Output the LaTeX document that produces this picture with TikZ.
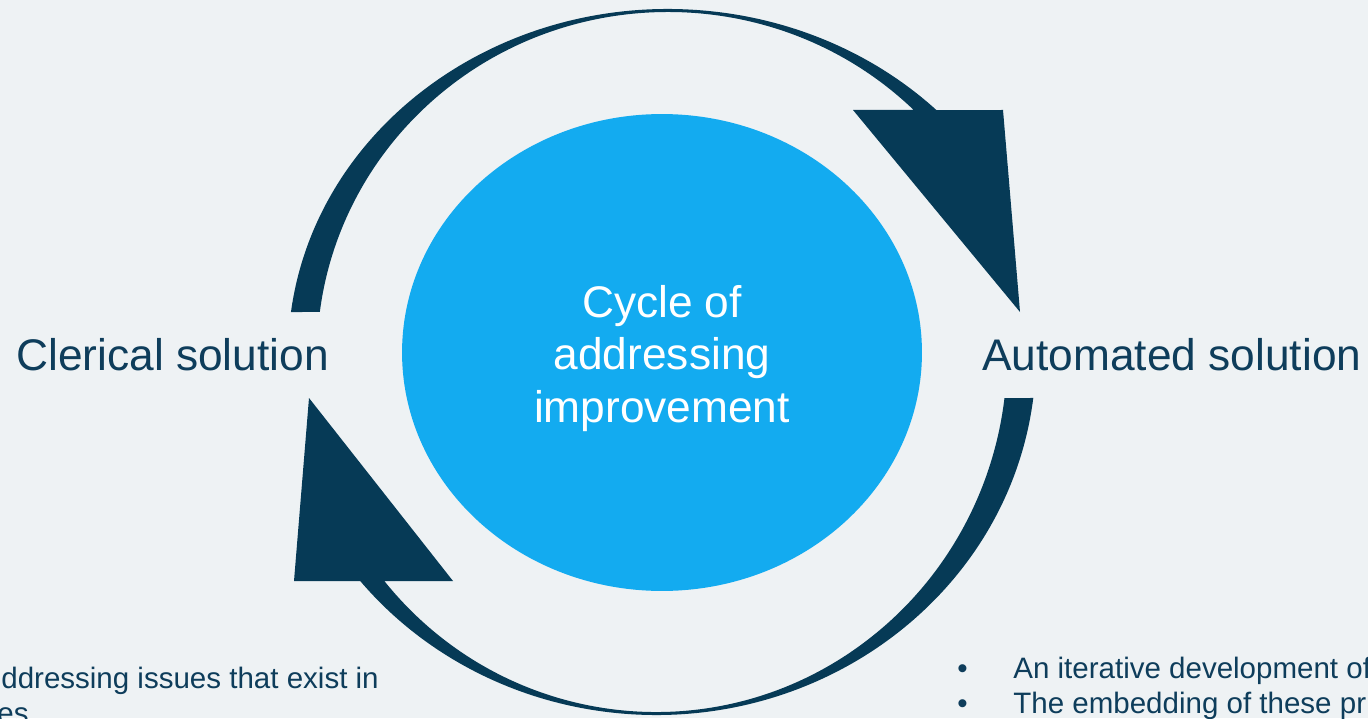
\documentclass[tikz,border=0pt]{standalone}
\usepackage{fontspec}
\setmainfont{Liberation Sans}
\usetikzlibrary{shapes.geometric,positioning}
\definecolor{bgcol}{HTML}{EEF2F4}
\definecolor{ringcol}{HTML}{063A56}
\definecolor{corecol}{HTML}{13ABF0}
\definecolor{labelcol}{HTML}{0E3D5B}
\tikzstyle{core} = [ellipse, fill=corecol, minimum width=10.4cm,
    minimum height=9.54cm, inner sep=0pt]
\tikzstyle{ring} = [fill=ringcol]
\tikzstyle{bigtext} = [text=white, font=\fontsize{25.2}{30}\selectfont,
    align=center, inner sep=0pt]
\tikzstyle{sidelabel} = [text=labelcol, font=\fontsize{25.2}{30}\selectfont,
    anchor=base west, inner sep=0pt]
\tikzstyle{note} = [text=labelcol, font=\fontsize{16.8}{19.8}\selectfont,
    anchor=base west, inner sep=0pt]

\begin{document}
\begin{tikzpicture}[x=0.02cm, y=0.02cm]
		\useasboundingbox (0,0) rectangle (1368,718);
		\fill[bgcol] (0,0) rectangle (1368,718);
		\clip (0,0) rectangle (1368,718);
		
		\node[core] (cycle) at (662,365.5) {};
		\node[bigtext] (cycletext) at ([yshift=-0.12cm]cycle.center) {Cycle of\\addressing\\improvement};
		
		% upper arrow, clerical -> automated
		\fill[ring] (668,363) ++(172.86:380 and 346)
			arc[start angle=172.86, end angle=45.08, x radius=380, y radius=346]
			-- (1003,608) -- (1020,406) -- (853,608) -- (913.7,608)
			arc[start angle=45.58, end angle=172.8, x radius=351, y radius=343]
			-- cycle;
		% lower arrow, automated -> clerical
		\fill[ring] (656,363) ++(-6.86:380 and 360)
			arc[start angle=-6.86, end angle=-141.11, x radius=380, y radius=360]
			-- (294,137) -- (309,320) -- (453,137) -- (384.3,137)
			arc[start angle=-140.73, end angle=-6.92, x radius=351, y radius=357]
			-- cycle;
		
		\node[sidelabel] (clerical) at (16,348) {Clerical solution};
		\node[sidelabel] (automated) at (982,348) {Automated solution};
		
		\node[note] (issues) at (1,30) {ddressing issues that exist in};
		\node[note] (issues2) at (-3,-5) {es};
		\node[note] (dot1) at (957,40) {\textbullet};
		\node[note] (iter) at (1013,40) {An iterative development of};
		\node[note] (dot2) at (957,5) {\textbullet};
		\node[note] (embed) at (1013,5) {The embedding of these pr};
	\end{tikzpicture}
\end{document}
